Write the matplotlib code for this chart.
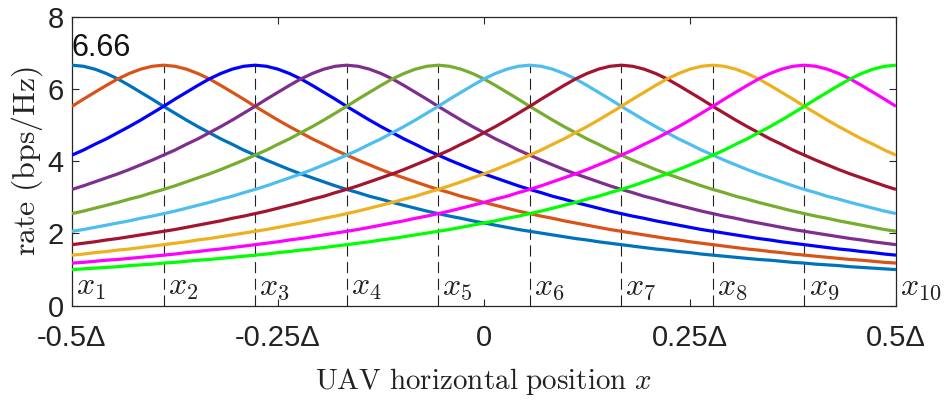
import numpy as np
import matplotlib
matplotlib.use("Agg")
import matplotlib.pyplot as plt

plt.rcParams['mathtext.fontset'] = 'cm'

# ---- data ----
# rate profile vs. distance |x - x_k| sampled every Delta/72 (d = 0 ... Delta)
profile = [6.66, 6.63, 6.55, 6.43, 6.28, 6.10, 5.91, 5.72, 5.52, 5.33,
           5.14, 4.96, 4.79, 4.62, 4.47, 4.31, 4.17, 4.03, 3.90, 3.77,
           3.65, 3.54, 3.43, 3.32, 3.22, 3.13, 3.03, 2.95, 2.86, 2.78,
           2.70, 2.62, 2.55, 2.48, 2.42, 2.35, 2.29, 2.23, 2.17, 2.11,
           2.06, 2.01, 1.96, 1.91, 1.86, 1.82, 1.77, 1.73, 1.69, 1.65,
           1.61, 1.57, 1.54, 1.50, 1.47, 1.43, 1.40, 1.37, 1.34, 1.31,
           1.28, 1.26, 1.23, 1.20, 1.18, 1.15, 1.13, 1.11, 1.08, 1.06,
           1.04, 1.02, 1.00]
x_samples = np.linspace(-0.5, 0.5, 73)          # sample positions (units of Delta)
peak_index = [0, 8, 16, 24, 32, 40, 48, 56, 64, 72]  # x_k positions in samples
peak_rate = 6.66
point_labels = [r'$x_{%d}$' % k for k in range(1, 11)]
colors = ['#0072BD', '#D95319', '#0000FF', '#7E2F8E', '#77AC30',
          '#4DBEEE', '#A2142F', '#EDB120', '#FF00FF', '#00FF00']
xtick_vals = [-0.5, -0.25, 0, 0.25, 0.5]
xtick_labels = ['-0.5\u0394', '-0.25\u0394', '0', '0.25\u0394', '0.5\u0394']
ytick_vals = [0, 2, 4, 6, 8]

sans = ['Liberation Sans Narrow', 'Liberation Sans', 'DejaVu Sans']

fig = plt.figure(figsize=(9.46, 4.05), dpi=100)
ax = fig.add_axes([0.0761, 0.2452, 0.8710, 0.7133])

for k, (pi, c) in enumerate(zip(peak_index, colors)):
    y = [profile[abs(i - pi)] for i in range(len(x_samples))]
    ax.plot(x_samples, y, color=c, lw=2.3, solid_capstyle='butt',
            solid_joinstyle='round', zorder=3)

xk = [x_samples[pi] for pi in peak_index]
for j, x in enumerate(xk):
    if 0 < j < len(xk) - 1:
        ax.plot([x, x], [0, peak_rate], color='#222222', lw=0.8,
                linestyle=(0, (10, 5)), zorder=2)
    ax.annotate(point_labels[j], xy=(x, 0.3), xytext=(3, 0),
                textcoords='offset points', fontsize=23, ha='left',
                va='baseline', annotation_clip=False, color='#222222')

ax.text(-0.5, 6.92, '6.66', family=sans, fontsize=22, ha='left',
        va='baseline', color='#111111')

ax.set_xlim(-0.5, 0.5)
ax.set_ylim(0, 8)
ax.set_xticks(xtick_vals)
ax.set_xticklabels(xtick_labels, family=sans, fontsize=21)
ax.set_yticks(ytick_vals)
ax.set_yticklabels([str(v) for v in ytick_vals], family=sans, fontsize=21)
ax.tick_params(direction='in', length=5, width=0.8, top=True, right=True,
               color='#262626', labelcolor='#222222')
ax.tick_params(axis='x', pad=13)
ax.tick_params(axis='y', pad=6)
for s in ax.spines.values():
    s.set_color('#262626')
    s.set_linewidth(0.9)

ax.set_xlabel(r'$\mathrm{UAV\ horizontal\ position}\ x$', fontsize=21,
              color='#222222')
ax.xaxis.set_label_coords(0.5, -0.21)
ax.set_ylabel(r'$\mathrm{rate\ (bps/Hz)}$', fontsize=23, color='#222222')
ax.yaxis.set_label_coords(-0.033, 0.5)

fig.savefig('out.png', dpi=100)
